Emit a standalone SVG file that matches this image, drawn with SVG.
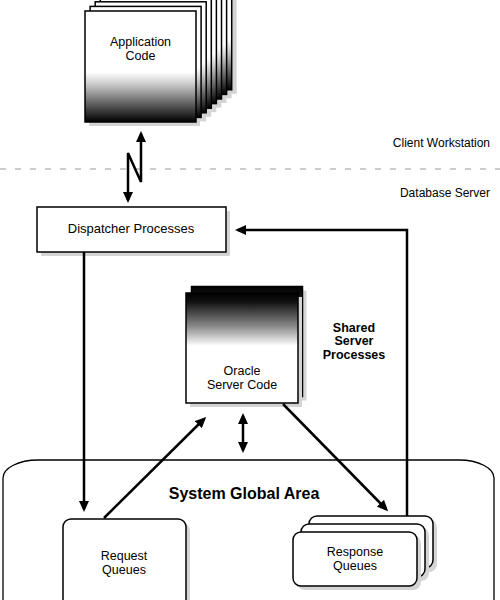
<svg xmlns="http://www.w3.org/2000/svg" width="500" height="600" viewBox="0 0 500 600">
<defs>
<linearGradient id="gApp" x1="0" y1="0" x2="0" y2="1">
<stop offset="0" stop-color="#fff"/>
<stop offset="0.55" stop-color="#fff"/>
<stop offset="0.65" stop-color="#cfcfcf"/>
<stop offset="0.82" stop-color="#6a6a6a"/>
<stop offset="1" stop-color="#000"/>
</linearGradient>
<linearGradient id="gOra" x1="0" y1="0" x2="0" y2="1">
<stop offset="0" stop-color="#000"/>
<stop offset="0.08" stop-color="#111"/>
<stop offset="0.3" stop-color="#888"/>
<stop offset="0.48" stop-color="#fff"/>
<stop offset="1" stop-color="#fff"/>
</linearGradient>
<marker id="ah" viewBox="0 0 11 10" markerWidth="11" markerHeight="10" refX="8" refY="5" orient="auto-start-reverse" markerUnits="userSpaceOnUse">
<path d="M0,0 L11,5 L0,10 z" fill="#000"/>
</marker>
</defs>
<style>
.t{font-family:"Liberation Sans",Arial,Helvetica,sans-serif;font-size:12.5px;fill:#000;text-anchor:middle}
.s{font-size:12px;text-anchor:end}
.b{font-weight:bold}
.box{stroke:#000;stroke-width:1.5}
.sh{fill:#d4d4d4}
.c{fill:none;stroke:#000;stroke-width:2.5}
</style>

<g id="divider">
<line x1="0" y1="169" x2="500" y2="169" stroke="#9a9a9a" stroke-width="1.2" stroke-dasharray="6 9"/>
<text class="t s" x="490" y="147">Client Workstation</text>
<text class="t s" x="490" y="197">Database Server</text>
</g>

<g id="application-code">
<rect class="sh" x="125.7" y="-17.2" width="111" height="111"/>
<rect class="sh" x="120.6" y="-12.6" width="111" height="111"/>
<rect class="sh" x="115.5" y="-8" width="111" height="111"/>
<rect class="sh" x="110.4" y="-3.4" width="111" height="111"/>
<rect class="sh" x="105.3" y="1.2" width="111" height="111"/>
<rect class="sh" x="100.2" y="5.8" width="111" height="111"/>
<rect class="sh" x="95.1" y="10.4" width="111" height="111"/>
<rect class="sh" x="89" y="15" width="111" height="111"/>
<rect class="box" fill="url(#gApp)" x="120.7" y="-21.2" width="111" height="111"/>
<rect class="box" fill="url(#gApp)" x="115.6" y="-16.6" width="111" height="111"/>
<rect class="box" fill="url(#gApp)" x="110.5" y="-12" width="111" height="111"/>
<rect class="box" fill="url(#gApp)" x="105.4" y="-7.4" width="111" height="111"/>
<rect class="box" fill="url(#gApp)" x="100.3" y="-2.8" width="111" height="111"/>
<rect class="box" fill="url(#gApp)" x="95.2" y="1.8" width="111" height="111"/>
<rect class="box" fill="url(#gApp)" x="90.1" y="6.4" width="111" height="111"/>
<rect class="box" fill="url(#gApp)" x="85" y="11" width="111" height="111"/>
<text class="t" x="140.5" y="45.5">Application</text>
<text class="t" x="140.5" y="59.5">Code</text>
</g>

<g id="dispatcher">
<rect class="sh" x="41" y="211" width="189" height="45"/>
<rect class="box" fill="#fff" x="37" y="207" width="189" height="45"/>
<text class="t" x="131" y="233" style="font-size:13px">Dispatcher Processes</text>
</g>

<g id="oracle-server-code">
<rect class="sh" x="195.5" y="290.5" width="111" height="110"/>
<rect class="box" fill="url(#gOra)" x="191.5" y="286.5" width="111" height="110"/>
<rect class="sh" x="190" y="297" width="112" height="110"/>
<rect class="box" fill="url(#gOra)" x="186" y="293" width="112" height="110"/>
<text class="t" x="242" y="374.5">Oracle</text>
<text class="t" x="242" y="388.5">Server Code</text>
</g>

<g id="shared-server-label">
<text class="t b" x="354" y="331.5">Shared</text>
<text class="t b" x="354" y="345">Server</text>
<text class="t b" x="354" y="358.5">Processes</text>
</g>

<g id="sga">
<path d="M3,620 L3,478 A35,18 0 0 1 38,460 L459,460 A35,18 0 0 1 494,478 L494,620" fill="#fff" stroke="#000" stroke-width="1.3"/>
<text class="t b" x="244" y="499" style="font-size:16px">System Global Area</text>
</g>

<g id="request-queues">
<rect class="sh" x="67" y="523" width="123" height="100" rx="8"/>
<rect class="box" fill="#fff" x="63" y="519" width="123" height="100" rx="8"/>
<text class="t" x="124" y="559.5">Request</text>
<text class="t" x="124" y="573.5">Queues</text>
</g>

<g id="response-queues">
<rect class="sh" x="313" y="520" width="124" height="52" rx="8"/>
<rect class="box" fill="#fff" x="309" y="516" width="124" height="52" rx="8"/>
<rect class="sh" x="305" y="528" width="124" height="53" rx="8"/>
<rect class="box" fill="#fff" x="301" y="524" width="124" height="53" rx="8"/>
<rect class="sh" x="297" y="536" width="124" height="54" rx="8"/>
<rect class="box" fill="#fff" x="293" y="532" width="124" height="54" rx="8"/>
<text class="t" x="355" y="555.5">Response</text>
<text class="t" x="355" y="569.5">Queues</text>
</g>

<g id="connectors">
<path class="c" d="M141,134 L141,182 L128,153 L128,200" marker-start="url(#ah)" marker-end="url(#ah)"/>
<path class="c" d="M84,252 L84,509" marker-end="url(#ah)"/>
<path class="c" d="M407,516 L407,230 L238,230" marker-end="url(#ah)"/>
<path class="c" d="M104,518 L204,419" marker-end="url(#ah)"/>
<path class="c" d="M283,404 L386,509" marker-end="url(#ah)"/>
<path class="c" d="M243,416 L243,450" marker-start="url(#ah)" marker-end="url(#ah)"/>
</g>
</svg>
